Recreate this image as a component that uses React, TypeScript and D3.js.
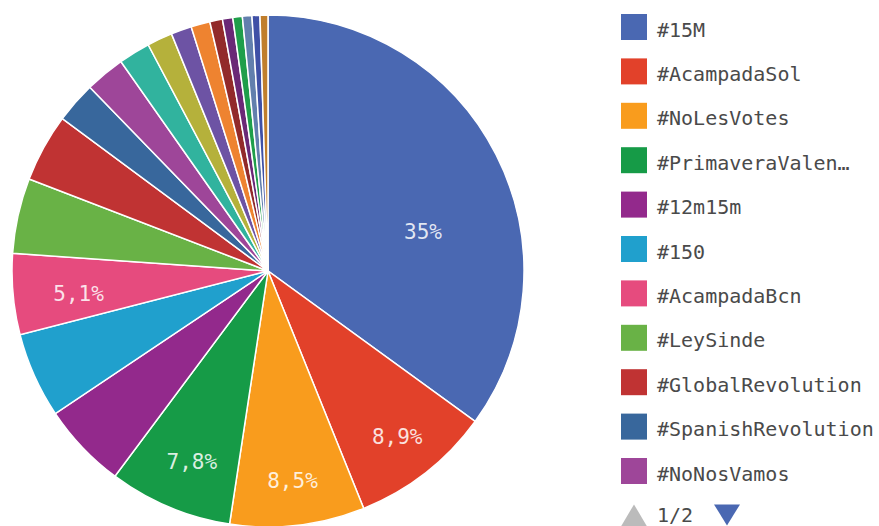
import React from "react";
import * as d3 from "d3";

// hashtags, in pie order (clockwise from 12 o'clock)
const tags = [
  "#15M", "#AcampadaSol", "#NoLesVotes", "#PrimaveraValenciana", "#12m15m",
  "#150", "#AcampadaBcn", "#LeySinde", "#GlobalRevolution", "#SpanishRevolution",
  "#NoNosVamos", "#DemocraciaRealYa", "#TomaLaPlaza", "#YesWeCamp", "#AcampadaValencia",
  "#NoNosRepresentan", "#AcampadaSevilla", "#Juventudsinfuturo", "#AcampadaMalaga",
  "#EuropeanRevolution", "#Indignados",
];
// share of tweets, percent
const shares = [
  35, 8.9, 8.5, 7.8, 5.4, 5.4, 5.1, 4.75, 4.3, 2.6, 2.5,
  2.0, 1.6, 1.3, 1.2, 0.8, 0.65, 0.6, 0.6, 0.5, 0.5,
];
const colors = [
  "#4a68b2", "#e2412a", "#f99c1d", "#169b47", "#93298c", "#20a0cd", "#e64b7e",
  "#69b246", "#c03333", "#38679c", "#9e4699", "#31b39e", "#b5b13b", "#6d53a4",
  "#ee8330", "#922a2a", "#6a2876", "#1f9e4a", "#627fad", "#3f50a6", "#c07e2c",
];
// which slices carry a label: [index, position within slice, radius fraction]
const labelled: [number, number, number][] = [
  [0, 0.6, 0.625],
  [1, 0.5, 0.82],
  [2, 0.5, 0.825],
  [3, 0.47, 0.8],
  [6, 0.42, 0.745],
];
const legendCount = 11;
const pageText = "1/2";

const W = 879, H = 526;
const cx = 268, cy = 271, R = 256;
const font = "'DejaVu Sans Mono', 'Liberation Mono', monospace";

const fmt = (v: number) => {
  const s = v >= 10 ? d3.format(".0f")(v) : d3.format(".1f")(v);
  return s.replace(".", ",") + "%";
};
const shortName = (s: string) => (s.length > 18 ? s.slice(0, 15) + "…" : s);

export default function App() {
  const data = tags.map((t, i) => ({ tag: t, value: shares[i], color: colors[i] }));
  const pie = d3.pie<any>().value((d) => d.value).sort(null).startAngle(0).endAngle(2 * Math.PI);
  const arcs = pie(data);
  const arc = d3.arc<any>().innerRadius(0).outerRadius(R);
  const total = d3.sum(shares);

  const rowY = d3.scaleLinear().domain([0, 1]).range([14, 58.4]);

  return (
    <svg width={W} height={H} style={{ position: "absolute", left: 0, top: 0, display: "block" }}>
      <g transform={`translate(${cx},${cy})`}>
        {arcs.map((a, i) => (
          <path key={i} d={arc(a) as string} fill={a.data.color} stroke="#fff" strokeWidth={1.5} />
        ))}
        {labelled.map(([i, f, rf]) => {
          const a = arcs[i];
          const ang = a.startAngle + (a.endAngle - a.startAngle) * f;
          const x = Math.sin(ang) * R * rf;
          const y = -Math.cos(ang) * R * rf;
          return (
            <text key={i} x={x} y={y} dy="0.36em" textAnchor="middle" fontFamily={font}
              fontSize={21} fill="#fff" fillOpacity={0.85}>
              {fmt((a.data.value / total) * 100)}
            </text>
          );
        })}
      </g>
      <g>
        {data.slice(0, legendCount).map((d, i) => (
          <g key={i} transform={`translate(621,${rowY(i)})`}>
            <rect width={26} height={26} fill={d.color} />
            <text x={36} y={22.5} fontFamily={font} fontSize={20} fill="#4a4a4a">
              {shortName(d.tag)}
            </text>
          </g>
        ))}
        <g transform={`translate(0,${rowY(legendCount)})`}>
          <path d="M621,24 L634,2 L647,24 Z" fill="#bbb" />
          <text x={657} y={20} fontFamily={font} fontSize={20} fill="#4a4a4a">{pageText}</text>
          <path d="M714,2 L740,2 L727,23 Z" fill="#4a68b2" />
        </g>
      </g>
    </svg>
  );
}
